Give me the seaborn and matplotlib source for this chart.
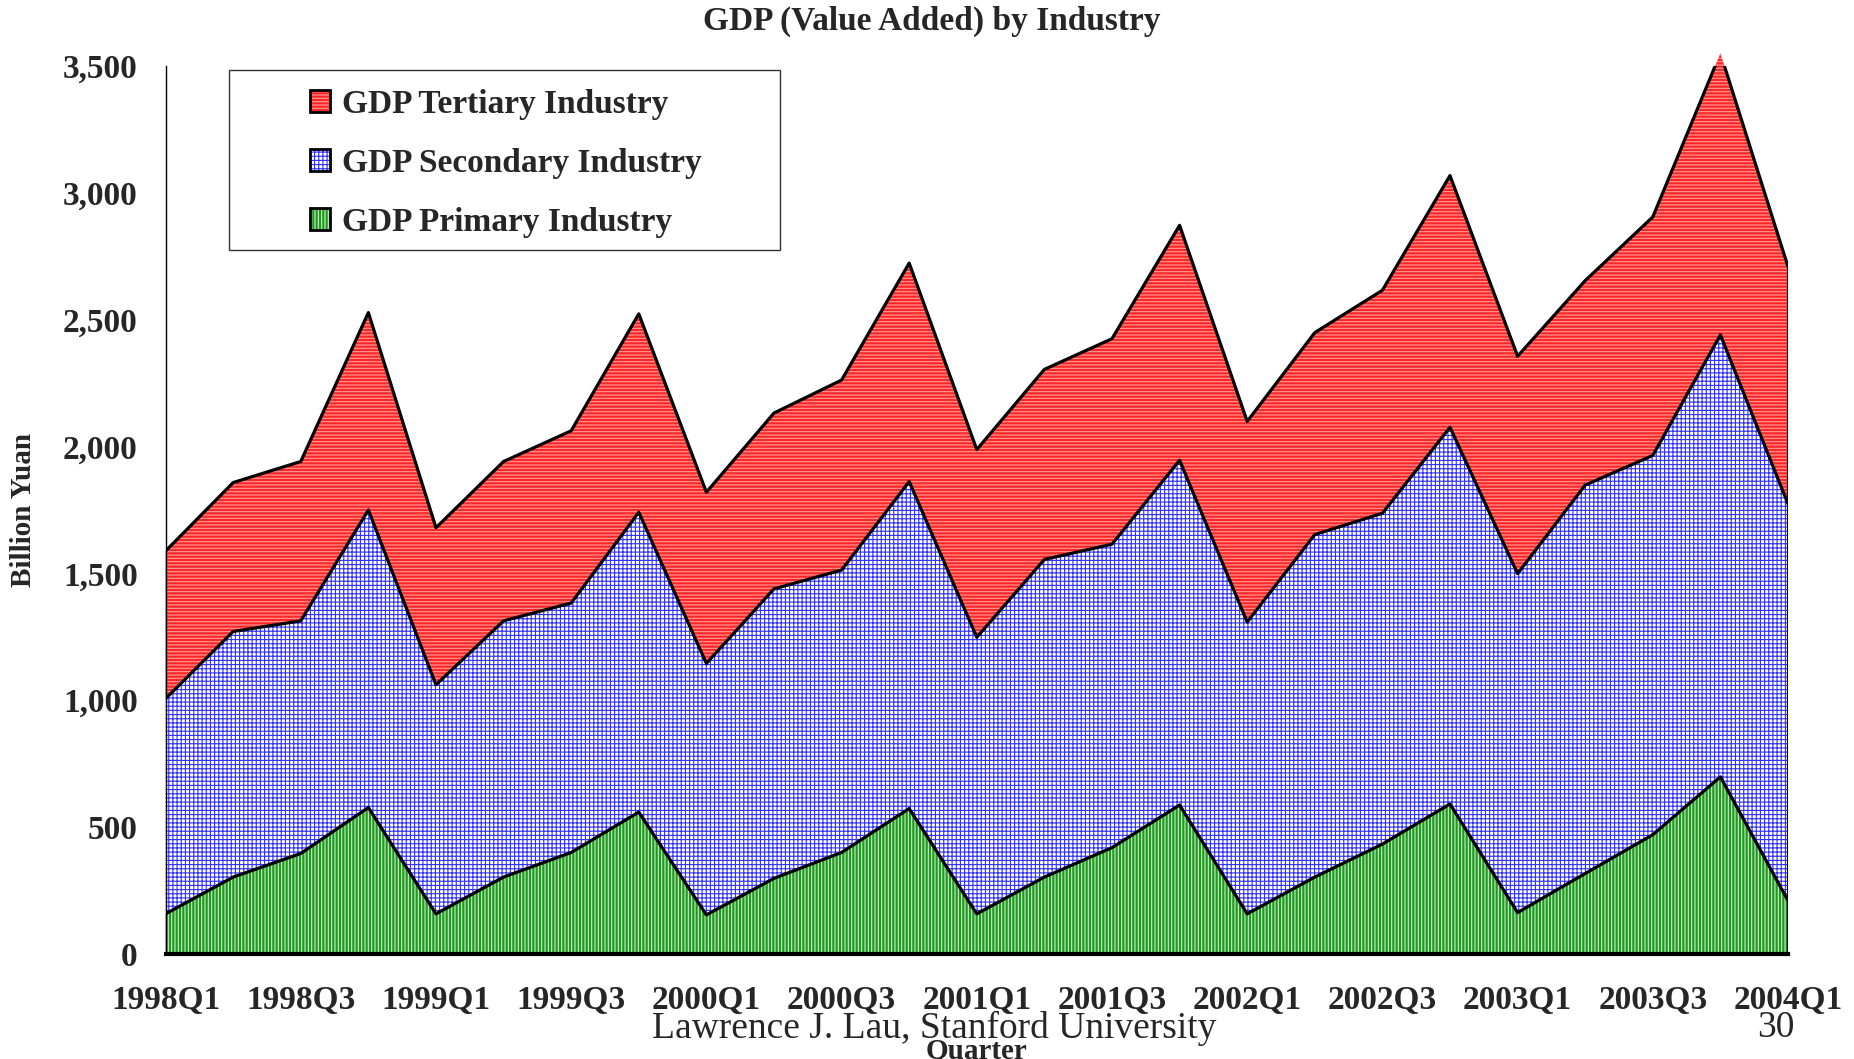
import numpy as np
import pandas as pd
import matplotlib
matplotlib.use('Agg')
import matplotlib.pyplot as plt
import seaborn as sns
from matplotlib.patches import Patch, Rectangle
from matplotlib.ticker import FuncFormatter

# 1. data (billion yuan)
quarters = [f'{y}Q{q}' for y in range(1998, 2004) for q in range(1, 5)] + ['2004Q1']
primary_top = [158, 303, 396, 577, 158, 303, 400, 559, 154, 298, 400, 573, 158,
               303, 419, 587, 158, 303, 433, 591, 163, 317, 470, 698, 210]
secondary_top = [1006, 1271, 1313, 1750, 1061, 1313, 1383, 1741, 1145, 1439, 1513, 1862, 1248,
                 1555, 1615, 1946, 1308, 1653, 1737, 2076, 1499, 1848, 1965, 2440, 1774]
total_top = [1588, 1858, 1941, 2528, 1680, 1941, 2062, 2523, 1820, 2132, 2262, 2723, 1988,
             2304, 2425, 2872, 2099, 2449, 2616, 3068, 2356, 2654, 2905, 3550, 2709]

primary = np.array(primary_top)
secondary = np.array(secondary_top) - primary
tertiary = np.array(total_top) - np.array(secondary_top)

df = pd.DataFrame({'quarter': quarters, 'x': np.arange(len(quarters)),
                   'GDP Primary Industry': primary,
                   'GDP Secondary Industry': secondary,
                   'GDP Tertiary Industry': tertiary})
layers = ['GDP Primary Industry', 'GDP Secondary Industry', 'GDP Tertiary Industry']
cum = df[layers].cumsum(axis=1)
long_df = cum.assign(x=df['x']).melt(id_vars='x', var_name='layer', value_name='top')

# 2. style
sns.set_theme(style='white')
plt.rcParams['font.family'] = ['Liberation Serif', 'DejaVu Serif']
plt.rcParams['font.weight'] = 'bold'
plt.rcParams['hatch.linewidth'] = 0.8

styles = {
    'GDP Primary Industry': dict(facecolor='#1f9a1f', edgecolor='#c9efc9', hatch='|||||'),
    'GDP Secondary Industry': dict(facecolor='white', edgecolor='#3030ff', hatch='++++'),
    'GDP Tertiary Industry': dict(facecolor='#ff2626', edgecolor='#ff9d9d', hatch='-----'),
}

fig = plt.figure(figsize=(18.54, 10.59), dpi=100)
ax = fig.add_axes([0.0893, 0.0992, 0.8751, 0.8385])

# 3. stacked hatched areas
bottom = np.zeros(len(df))
for name in layers:
    top = cum[name].values
    ax.fill_between(df['x'], bottom, top, linewidth=0, clip_on=False, **styles[name])
    bottom = top

# outlines
sns.lineplot(data=long_df, x='x', y='top', hue='layer', palette=['black'] * 3,
             linewidth=2.3, legend=False, ax=ax)
ax.vlines(df['x'].iloc[-1], 0, cum[layers[-1]].iloc[-1], color='black', linewidth=2.3)

# 4. axes
ax.set_xlim(0, len(df) - 1)
ax.set_ylim(0, 3500)
ax.set_xticks(df['x'])
ax.set_xticklabels([q if q.endswith(('Q1', 'Q3')) else '' for q in quarters])
ax.set_yticks(np.arange(0, 3501, 500))
ax.yaxis.set_major_formatter(FuncFormatter(lambda v, p: f'{int(v):,}'))
ax.tick_params(axis='both', labelsize=24, length=10, width=1, direction='out', color='black')
ax.tick_params(axis='x', pad=12)
ax.tick_params(axis='y', pad=10)
sns.despine(ax=ax)
ax.spines['left'].set_color('black')
ax.spines['left'].set_linewidth(1)
ax.spines['bottom'].set_color('black')
ax.spines['bottom'].set_linewidth(3)

ax.set_ylabel('Billion Yuan', fontsize=21, fontweight='bold')
ax.yaxis.set_label_coords(-0.079, 0.5)
ax.set_xlabel('Quarter', fontsize=21, fontweight='bold', va='top')
ax.xaxis.set_label_coords(0.5, -0.0946)

fig.text(932 / 1854, 1 - 21 / 1059, 'GDP (Value Added) by Industry', fontsize=24,
         fontweight='bold', ha='center', va='center')
fig.text(934 / 1854, 1 - 1028 / 1059, 'Lawrence J. Lau, Stanford University', fontsize=27,
         fontweight='normal', ha='center', va='center')
fig.text(1776 / 1854, 1 - 1028 / 1059, '30', fontsize=27, fontweight='normal',
         ha='center', va='center')

# 5. legend
handles = []
for name in layers[::-1]:
    handles.append((Patch(linewidth=0, **styles[name]),
                    Patch(facecolor='none', edgecolor='black', linewidth=2)))
fig.add_artist(Rectangle((229 / 1854, 1 - 250 / 1059), 551 / 1854, 180 / 1059,
                         transform=fig.transFigure, facecolor='white',
                         edgecolor='#333333', linewidth=1, zorder=5))
leg = fig.legend(handles, layers[::-1], loc='upper left',
                 bbox_to_anchor=(293 / 1854, 1 - 72 / 1059), frameon=False,
                 fontsize=24, borderpad=0, handlelength=0.62, handleheight=0.62,
                 handletextpad=0.35, labelspacing=0.84)
leg.set_zorder(6)

plt.savefig('out.png', dpi=100)
